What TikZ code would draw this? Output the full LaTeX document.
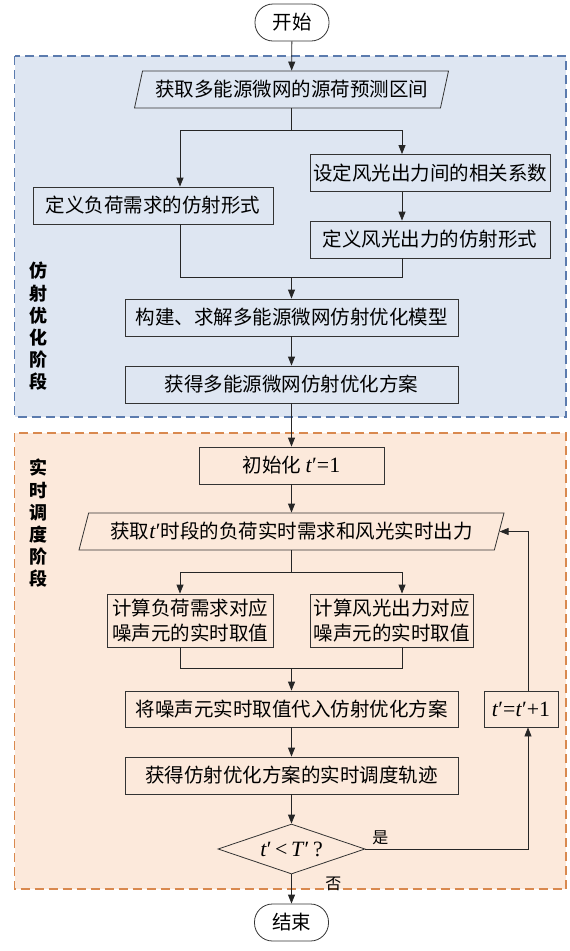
\documentclass[tikz,border=0pt]{standalone}
\usepackage{fontspec}
\setmainfont{Liberation Serif}[Scale=1.12]
\newfontfamily\cjk{Noto Sans CJK SC}
\usetikzlibrary{arrows.meta,positioning,shapes.geometric}
\definecolor{affFill}{HTML}{DEE6F2}
\definecolor{affLine}{HTML}{5B7BAE}
\definecolor{rtFill}{HTML}{FCE9DB}
\definecolor{rtLine}{HTML}{D9894F}
\newcommand{\tp}{{\rmfamily\textit{t}′}}
\newcommand{\Tp}{{\rmfamily\textit{T}′}}

\begin{document}
\begin{tikzpicture}[x=1pt,y=-1pt,
    >={Triangle[length=9pt,width=7pt]},
    box/.style={draw=black!80, line width=0.8pt, minimum height=37pt, inner sep=0pt,
      font=\cjk\fontsize{19.5}{23}\selectfont, align=center},
    term/.style={box, rounded corners=18pt, fill=white, minimum width=74pt},
    io/.style={box, trapezium, trapezium stretches body},
    decb/.style={box, diamond, aspect=2.94, minimum width=147pt, minimum height=50pt},
    wire/.style={line width=0.8pt, draw=black!85},
    phase/.style={dash pattern=on 9pt off 5pt, line width=1.1pt},
    stage/.style={font=\cjk\bfseries\fontsize{18}{22.2}\selectfont, align=center},
    lbl/.style={font=\cjk\fontsize{16}{18}\selectfont},
  ]
  \useasboundingbox (0,0) rectangle (570,951);
  % two phases
  \filldraw[phase, fill=affFill, draw=affLine] (14.5,56) rectangle (566,417);
  \filldraw[phase, fill=rtFill, draw=rtLine] (14.5,433) rectangle (566,889);
  \node[stage] (affTag) at (38,326.5) {仿\\射\\优\\化\\阶\\段};
  \node[stage] (rtTag) at (38,523.5) {实\\时\\调\\度\\阶\\段};

  \node[term] (start) at (292,22.5) {开始};
  \node[io, trapezium left angle=66, trapezium right angle=114, minimum width=314pt] (getfc) at (291.5,89.5) {获取多能源微网的源荷预测区间};
  \node[box, minimum width=240pt] (corr) at (430,173) {设定风光出力间的相关系数};
  \node[box, minimum width=240pt] (loadaff) at (153,205.5) {定义负荷需求的仿射形式};
  \node[box, minimum width=240pt] (resaff) at (430,239.5) {定义风光出力的仿射形式};
  \node[box, minimum width=333pt] (model) at (291.5,317.5) {构建、求解多能源微网仿射优化模型};
  \node[box, minimum width=333pt] (plan) at (291.5,384.5) {获得多能源微网仿射优化方案};

  \node[box, minimum width=185pt] (init) at (291.5,465.5) {初始化 \tp{\rmfamily =1}};
  \node[io, trapezium left angle=62, trapezium right angle=118, minimum width=425pt] (getrt) at (291.5,531.5) {获取\tp 时段的负荷实时需求和风光实时出力};
  \node[box, minimum width=166pt, minimum height=53pt, font=\cjk\fontsize{19.5}{25}\selectfont] (noiseL) at (190,620.5) {计算负荷需求对应\\噪声元的实时取值};
  \node[box, minimum width=163pt, minimum height=53pt, font=\cjk\fontsize{19.5}{25}\selectfont] (noiseR) at (391.5,620.5) {计算风光出力对应\\噪声元的实时取值};
  \node[box, minimum width=333pt, minimum height=36pt] (subst) at (291.5,709) {将噪声元实时取值代入仿射优化方案};
  \node[box, minimum width=333pt] (traj) at (291.5,775.5) {获得仿射优化方案的实时调度轨迹};
  \node[decb] (check) at (291.5,849) {\tp{\rmfamily\,<\,}\Tp{\rmfamily\,?}};
  \node[box, minimum width=74pt, minimum height=36pt] (incr) at (521,709) {\tp{\rmfamily =}\tp{\rmfamily +1}};
  \node[term] (stop) at (291.5,922.5) {结束};

  % branch points
  \coordinate (sA) at (180,130);
  \coordinate (sB) at (402,130);
  \coordinate (mA) at (180,277);
  \coordinate (mB) at (402,277);
  \coordinate (sC) at (180,572);
  \coordinate (sD) at (402,572);
  \coordinate (mC) at (180,668);
  \coordinate (mD) at (402,668);
  \coordinate (loop) at (528,849);

  \draw[->,wire] (start) -- (getfc);
  \draw[wire] (getfc.south) -- (getfc.south |- sA);
  \draw[wire] (sA) -- (sB);
  \draw[->,wire] (sA) -- (sA |- loadaff.north);
  \draw[->,wire] (sB) -- (sB |- corr.north);
  \draw[->,wire] (sB |- corr.south) -- (sB |- resaff.north);
  \draw[wire] (mA |- loadaff.south) -- (mA) -- (mB) -- (mB |- resaff.south);
  \draw[->,wire] (model.north |- mA) -- (model.north);
  \draw[->,wire] (model) -- (plan);
  \draw[->,wire] (plan) -- (init);
  \draw[->,wire] (init) -- (init.south |- getrt.north);
  \draw[wire] (getrt.south) -- (getrt.south |- sC);
  \draw[wire] (sC) -- (sD);
  \draw[->,wire] (sC) -- (sC |- noiseL.north);
  \draw[->,wire] (sD) -- (sD |- noiseR.north);
  \draw[wire] (mC |- noiseL.south) -- (mC) -- (mD) -- (mD |- noiseR.south);
  \draw[->,wire] (subst.north |- mC) -- (subst.north);
  \draw[->,wire] (subst) -- (traj);
  \draw[->,wire] (traj) -- (check);
  \draw[->,wire] (check.east) -- (loop) -- (loop |- incr.south);
  \draw[->,wire] (loop |- incr.north) -- (loop |- getrt.east) -- (getrt.east);
  \draw[->,wire] (check.south) -- (stop);
  \node[lbl, anchor=south west] (yes) at ([xshift=3pt]check.east) {是};
  \node[lbl, anchor=north west] (no) at ([xshift=30pt,yshift=1pt]check.south) {否};
\end{tikzpicture}
\end{document}
